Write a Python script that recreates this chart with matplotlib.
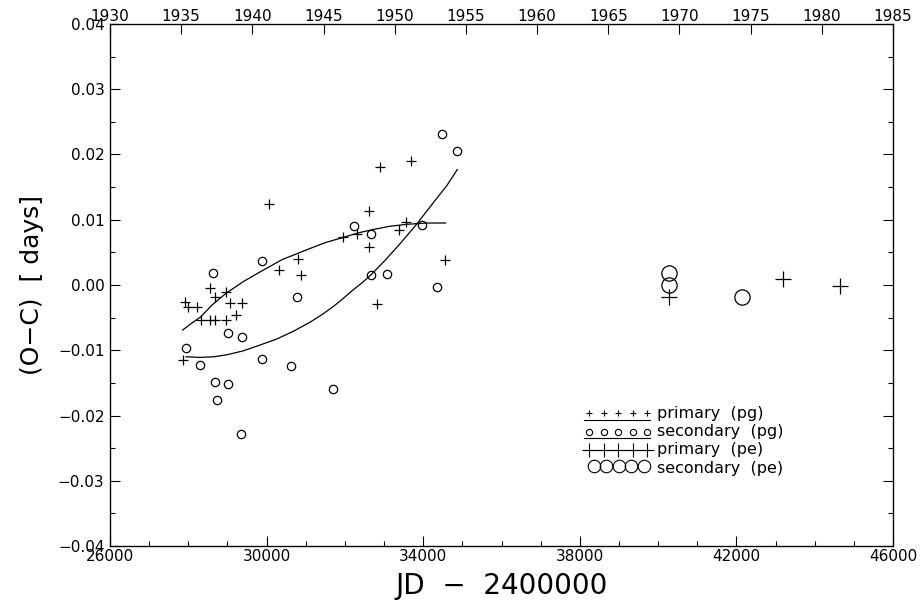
import matplotlib.pyplot as plt
from matplotlib.ticker import MultipleLocator, FixedLocator, FuncFormatter

# primary minima, photographic
prim_pg_jd = [30061, 30794, 30325, 30880, 28554, 28963, 28682, 27905, 28000, 28215,
              29065, 29364, 28333, 28554, 28682, 28963, 29218, 27856,
              32886, 33678, 32613, 31957, 32315, 32613, 33372, 33560, 34557, 32826]
prim_pg_oc = [0.0124, 0.0040, 0.0023, 0.0016, -0.0004, -0.0010, -0.0018, -0.0026, -0.0034, -0.0034,
              -0.0028, -0.0027, -0.0053, -0.0053, -0.0053, -0.0053, -0.0046, -0.0115,
              0.0181, 0.0190, 0.0113, 0.0073, 0.0078, 0.0058, 0.0085, 0.0097, 0.0039, -0.0029]

# secondary minima, photographic
sec_pg_jd = [29875, 28623, 30768, 29022, 29364, 27941, 28307, 29890, 30613, 28682,
             29022, 28724, 29346, 34470, 34872, 32237, 32665, 33977, 32656, 33075,
             34358, 31701]
sec_pg_oc = [0.0037, 0.0018, -0.0019, -0.0074, -0.0079, -0.0097, -0.0123, -0.0114, -0.0124, -0.0149,
             -0.0152, -0.0176, -0.0228, 0.0232, 0.0205, 0.0090, 0.0078, 0.0092, 0.0015, 0.0017,
             -0.0003, -0.0159]

# photoelectric minima
prim_pe_jd = [40286, 43189, 44646]
prim_pe_oc = [-0.0019, 0.0009, -0.0002]
sec_pe_jd = [40278, 40278, 42134]
sec_pe_oc = [0.0019, 0.0000, -0.0019]

# fitted curves
fit1_jd = [27856, 28100, 28314, 28600, 28980, 29400, 29831, 30400, 31109, 31500, 31960,
           32350, 32723, 33150, 33576, 34100, 34572]
fit1_oc = [-0.0069, -0.0058, -0.0049, -0.0031, -0.0012, 0.0005, 0.0020, 0.0039, 0.0056, 0.0065, 0.0073,
           0.0080, 0.0085, 0.0090, 0.0093, 0.0095, 0.0095]
fit2_jd = [27941, 28299, 28650, 28980, 29400, 29831, 30250, 30682, 31109, 31400, 31704, 31950,
           32200, 32450, 32656, 33030, 33405, 33830, 34256, 34600, 34872]
fit2_oc = [-0.0110, -0.0111, -0.0110, -0.0107, -0.0101, -0.0092, -0.0083, -0.0071, -0.0057, -0.0046,
           -0.0033, -0.0021, -0.0008, 0.0004, 0.0015, 0.0038, 0.0063, 0.0093, 0.0126, 0.0152, 0.0177]

xticks = [26000, 30000, 34000, 38000, 42000, 46000]
years = list(range(1930, 1990, 5))

fig = plt.figure(figsize=(9.24, 6.16), dpi=100)
ax = fig.add_axes([110/924, 70/616, 783/924, 522/616])

lw = 0.9
ax.plot(fit1_jd, fit1_oc, color='black', lw=lw)
ax.plot(fit2_jd, fit2_oc, color='black', lw=lw)
ax.plot(prim_pg_jd, prim_pg_oc, '+', color='black', ms=7, mew=0.9, ls='none')
ax.plot(sec_pg_jd, sec_pg_oc, 'o', mfc='none', mec='black', ms=6, mew=0.9, ls='none')
ax.plot(prim_pe_jd, prim_pe_oc, '+', color='black', ms=11, mew=0.9, ls='none')
ax.plot(sec_pe_jd, sec_pe_oc, 'o', mfc='none', mec='black', ms=11, mew=0.9, ls='none')

ax.set_xlim(26000, 46000)
ax.set_ylim(-0.04, 0.04)
ax.xaxis.set_major_locator(FixedLocator(xticks))
ax.xaxis.set_minor_locator(MultipleLocator(1000))
ax.yaxis.set_major_locator(MultipleLocator(0.01))
ax.yaxis.set_minor_locator(MultipleLocator(0.005))
ax.yaxis.set_major_formatter(FuncFormatter(lambda v, p: f'{v:.2f}'.replace('-', '\u2212')))
ax.tick_params(which='both', direction='in', right=True, labelsize=11, width=0.8, pad=4)
ax.tick_params(which='major', length=7.5)
ax.tick_params(which='minor', length=3.7)
ax.tick_params(axis='x', pad=2)
for s in ax.spines.values():
    s.set_linewidth(0.9)

ax2 = ax.twiny()
ax2.set_xlim(1930, 1985)
ax2.set_xticks(years)
ax2.tick_params(direction='in', length=7.5, width=0.8, labelsize=11, pad=0)

ax.set_xlabel('JD  \u2212  2400000', fontsize=20, labelpad=6)
ax.set_ylabel('(O\u2212C)  [ days]', fontsize=18, labelpad=10)

# legend drawn by hand, axes coordinates
tr = ax.transAxes
lx = [0.612 + i * 0.0185 for i in range(5)]
ax.plot(lx, [0.254] * 5, '+', color='black', ms=5, mew=0.8, transform=tr, clip_on=False)
ax.plot([0.606, 0.690], [0.242, 0.242], color='black', lw=0.8, transform=tr)
ax.plot(lx, [0.219] * 5, 'o', mfc='none', mec='black', ms=4.5, mew=0.8, transform=tr)
ax.plot([0.606, 0.690], [0.207, 0.207], color='black', lw=0.8, transform=tr)
ax.plot([0.606, 0.690], [0.183, 0.183], color='black', lw=0.8, transform=tr)
ax.plot(lx, [0.183] * 5, '+', color='black', ms=10, mew=0.8, transform=tr)
ax.plot([0.618 + i * 0.016 for i in range(5)], [0.153] * 5, 'o', mfc='none', mec='black',
        ms=9, mew=0.8, transform=tr)
labels = ['primary  (pg)', 'secondary  (pg)', 'primary  (pe)', 'secondary  (pe)']
for i, t in enumerate(labels):
    ax.text(0.699, 0.254 - i * 0.035, t, transform=tr, fontsize=11.5, va='center', ha='left')

fig.savefig('out.png', dpi=100)
